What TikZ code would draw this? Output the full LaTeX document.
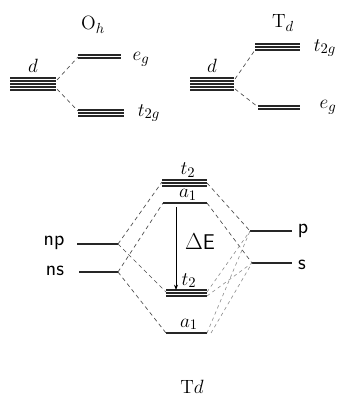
\documentclass[tikz,border=0pt]{standalone}
\usetikzlibrary{arrows.meta}
\begin{document}
\begin{tikzpicture}[x=0.75pt,y=-0.75pt,
  lvl/.style={line width=1.1pt,black!85},
  conn/.style={dashed,dash pattern=on 3pt off 2.5pt,line width=0.5pt,black!70},
  faint/.style={dashed,dash pattern=on 2.5pt off 2.5pt,line width=0.45pt,black!45},
  lab/.style={font=\sffamily\fontsize{16}{16}\selectfont,inner sep=0pt},
  mlab/.style={font=\fontsize{15}{15}\selectfont,inner sep=0pt}]
\useasboundingbox (0,0) rectangle (343,398);

% ---------- top left: O_h ----------
\foreach \y in {78,81,84,87,90} \draw[lvl] (10,\y) -- (56,\y);
\coordinate (dAu) at (57,80); \coordinate (dAd) at (57,89);
\foreach \y in {55,58} \draw[lvl] (78,\y) -- (121,\y);
\coordinate (egA) at (78,57);
\foreach \y in {110,113,116} \draw[lvl] (78,\y) -- (124,\y);
\coordinate (tgA) at (78,111);
\draw[conn] (dAu) -- (egA);
\draw[conn] (dAd) -- (tgA);
\node[mlab] (ldA) at (33,66) {$d$};
\node[mlab] (lOh) at (93,25) {$\mathrm{O}_h$};
\node[mlab] (legA) at (141,59) {$e_g$};
\node[mlab] (ltgA) at (149,113) {$t_{2g}$};

% ---------- top right: T_d ----------
\foreach \y in {78,81,84,87,90} \draw[lvl] (190,\y) -- (234,\y);
\coordinate (dBu) at (235,79); \coordinate (dBd) at (235,89);
\foreach \y in {44,47,50} \draw[lvl] (255,\y) -- (300,\y);
\coordinate (tgB) at (255,50);
\foreach \y in {106,109} \draw[lvl] (258,\y) -- (300,\y);
\coordinate (egB) at (258,107);
\draw[conn] (dBu) -- (tgB);
\draw[conn] (dBd) -- (egB);
\node[mlab] (ldB) at (212,66) {$d$};
\node[mlab] (lTd) at (283,23) {$\mathrm{T}_d$};
\node[mlab] (ltgB) at (325,48) {$t_{2g}$};
\node[mlab] (legB) at (328,107) {$e_g$};

% ---------- bottom: MO diagram ----------
% metal levels
\draw[lvl] (77,244) -- (118,244); \coordinate (npR) at (118,244);
\draw[lvl] (79,272) -- (118,272); \coordinate (nsR) at (118,272);
\node[lab] (lnp) at (54,243) {np};
\node[lab] (lns) at (55,271) {ns};
% ligand levels
\draw[lvl] (250,231) -- (292,231); \coordinate (pL) at (250,231);
\draw[lvl] (252,263) -- (292,263); \coordinate (sL) at (252,263);
\node[lab] (lp) at (303,231) {p};
\node[lab] (ls) at (302,265) {s};
% MO levels
\foreach \y in {180,183,186} \draw[lvl] (162,\y) -- (207,\y);
\coordinate (t2tL) at (162,182); \coordinate (t2tR) at (207,183);
\draw[lvl] (163,203) -- (207,203);
\coordinate (a1uL) at (163,203); \coordinate (a1uR) at (207,203);
\foreach \y in {290,293,296} \draw[lvl] (166,\y) -- (207,\y);
\coordinate (t2lL) at (166,292); \coordinate (t2lR) at (207,292);
\coordinate (t2lR2) at (207,296);
\draw[lvl] (166,333) -- (207,333);
\coordinate (a1lL) at (166,333); \coordinate (a1lR) at (207,333);
\node[mlab,anchor=base] (lt2t) at (188,175) {$t_2$};
\node[mlab,anchor=base] (la1u) at (188,198) {$a_1$};
\node[mlab,anchor=base] (lt2l) at (189,285) {$t_2$};
\node[mlab,anchor=base] (la1l) at (189,327) {$a_1$};
% connectors
\draw[conn] (npR) -- (t2tL);
\draw[conn] (npR) -- (t2lL);
\draw[conn] (nsR) -- (a1uL);
\draw[conn] (nsR) -- (a1lL);
\draw[conn] (t2tR) -- (pL);
\draw[conn] (a1uR) -- (sL);
\draw[faint] (t2lR) -- (pL);
\draw[faint] (t2lR2) -- (sL);
\draw[faint] (a1lR) -- (pL);
\draw[faint] ([xshift=3pt]a1lR) -- (sL);
% Delta E
\coordinate (dEt) at (176,207); \coordinate (dEb) at (176,290);
\draw[line width=0.5pt,-{Stealth[length=4pt,width=3pt]}] (dEt) -- (dEb);
\node[lab] (ldE) at (200,242) {$\Delta$E};
\node[mlab] (lTdb) at (192,387) {$\mathrm{T}d$};
\end{tikzpicture}
\end{document}
